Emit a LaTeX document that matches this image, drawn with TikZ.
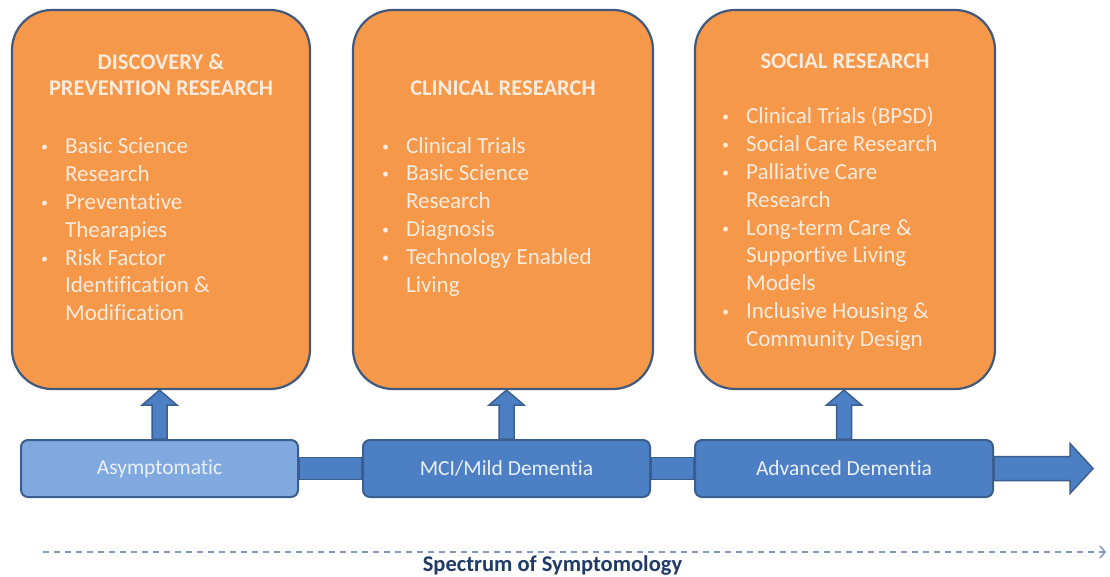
\documentclass[tikz,border=0pt]{standalone}
\usepackage{fontspec}
\setmainfont{Carlito}[Ligatures=NoCommon]
\usetikzlibrary{positioning,calc,arrows.meta}

\definecolor{boxorange}{HTML}{F69849}
\definecolor{boxline}{HTML}{41597D}
\definecolor{cream}{HTML}{FDEBDD}
\definecolor{stagelight}{HTML}{80A9DF}
\definecolor{stageblue}{HTML}{4C7FC4}
\definecolor{stageline}{HTML}{3A5F8F}
\definecolor{stagetext}{HTML}{EAF0FA}
\definecolor{specline}{HTML}{8397B9}
\definecolor{spectext}{HTML}{1F3B66}

\newcommand{\bul}{\makebox[24pt][l]{\raisebox{2pt}{\fontsize{14}{14}\selectfont\textbullet}}}
\newcommand{\ind}{\hspace*{24pt}}
% fat arrow from a stage up to its research box
\newcommand{\liftarrow}[2]{%
  \draw[link] let \p1=(#1.north), \p2=(#2.south) in
    (\x1-7.5pt,\y1) -- (\x1-7.5pt,\y2-15pt) -- (\x1-17.5pt,\y2-15pt) -- (\x1,\y2)
    -- (\x1+17.5pt,\y2-15pt) -- (\x1+7.5pt,\y2-15pt) -- (\x1+7.5pt,\y1) -- cycle;}

\begin{document}
\begin{tikzpicture}[x=1pt, y=1pt,
    research/.style={draw=boxline, line width=2.2pt, fill=boxorange, rounded corners=40pt,
        minimum width=300pt, minimum height=379pt, inner sep=0pt},
    heading/.style={text=cream, font=\fontsize{22.5}{25.5}\selectfont\bfseries, align=center, inner sep=0pt},
    items/.style={text=cream, font=\fontsize{23}{27.8}\selectfont, align=left, inner sep=0pt},
    stage/.style={draw=stageline, line width=2pt, fill=stageblue, rounded corners=7pt,
        minimum height=57pt, text=stagetext, font=\fontsize{21.5}{24}\selectfont, inner sep=0pt},
    link/.style={draw=stageline, line width=1.5pt, fill=stageblue}]

    \fill[white] (0,0) rectangle (1110,576);
    \useasboundingbox (0,0) rectangle (1110,576);

    % Research areas
    \node[research, minimum width=298pt] (disc) at (161,376.5) {};
    \node[research] (clin) at (503,376.5) {};
    \node[research] (soc) at (845,376.5) {};

    \node[heading, below=45pt of disc.north] (disctitle) {DISCOVERY \&\\PREVENTION RESEARCH};
    \node[heading, below=72pt of clin.north] (clintitle) {CLINICAL RESEARCH};
    \node[heading, below=45pt of soc.north] (soctitle) {SOCIAL RESEARCH};

    \node[items, below right=129pt and 30pt of disc.north west] (discitems)
        {\bul Basic Science\\\ind Research\\\bul Preventative\\\ind Thearapies\\
         \bul Risk Factor\\\ind Identification \&\\\ind Modification};
    \node[items, below right=128pt and 30pt of clin.north west] (clinitems)
        {\bul Clinical Trials\\\bul Basic Science\\\ind Research\\\bul Diagnosis\\
         \bul Technology Enabled\\\ind Living};
    \node[items, below right=98pt and 28pt of soc.north west] (socitems)
        {\bul Clinical Trials (BPSD)\\\bul Social Care Research\\\bul Palliative Care\\\ind Research\\
         \bul Long-term Care \&\\\ind Supportive Living\\\ind Models\\
         \bul Inclusive Housing \&\\\ind Community Design};

    % Stages
    \node[stage, fill=stagelight, minimum width=277pt] (asym) at (159.5,107.5) {Asymptomatic};
    \node[stage, minimum width=287pt] (mci) at (506.5,107.5) {MCI/Mild Dementia};
    \node[stage, minimum width=298pt] (adv) at (844,107.5) {Advanced Dementia};

    % Links between stages
    \draw[link] let \p1=(asym.east), \p2=(mci.west) in (\x1,\y1-11pt) rectangle (\x2,\y1+11pt);
    \draw[link] let \p1=(mci.east), \p2=(adv.west) in (\x1,\y1-11pt) rectangle (\x2,\y1+11pt);
    \coordinate (flowend) at (1093,107.5);
    \draw[link] let \p1=(adv.east), \p2=(flowend) in
        (\x1,\y1-12pt) -- (\x2-23pt,\y1-12pt) -- (\x2-23pt,\y1-25pt) -- (\x2,\y1)
        -- (\x2-23pt,\y1+25pt) -- (\x2-23pt,\y1+12pt) -- (\x1,\y1+12pt) -- cycle;

    % Arrows up to the research boxes
    \liftarrow{asym}{disc}
    \liftarrow{mci}{clin}
    \liftarrow{adv}{soc}

    % Spectrum
    \coordinate (specstart) at (43,24);
    \coordinate (specend) at (1106,24);
    \draw[specline, line width=1.5pt, dash pattern=on 6pt off 5pt,
        -{Straight Barb[length=5pt,width=12pt]}] (specstart) -- (specend);
    \node[text=spectext, font=\fontsize{22.5}{24}\selectfont\bfseries, anchor=base, inner sep=0pt]
        (spec) at (552.5,5) {Spectrum of Symptomology};
\end{tikzpicture}
\end{document}
